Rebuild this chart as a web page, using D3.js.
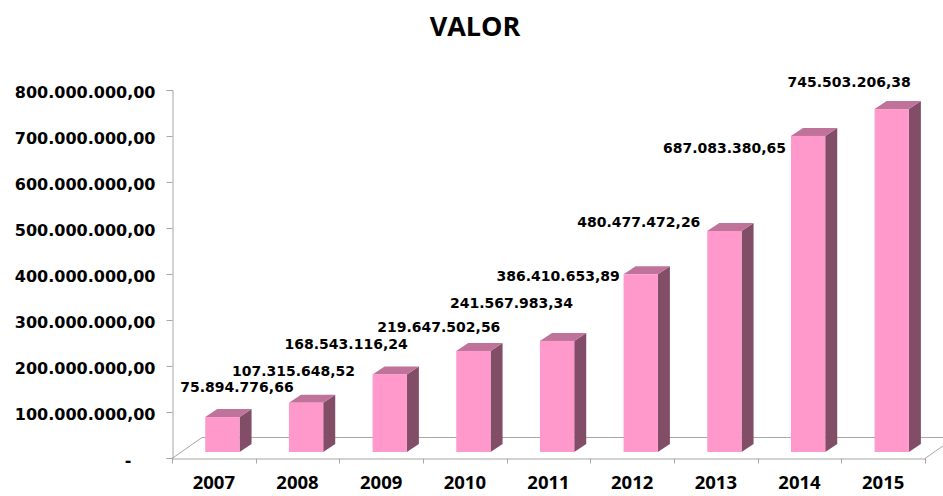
<!DOCTYPE html>
<html>
<head>
<meta charset="utf-8">
<script src="https://cdn.jsdelivr.net/npm/d3@7"></script>
<style>
  html, body { margin: 0; padding: 0; background: #fff; }
  svg { display: block; }
</style>
</head>
<body>
<svg id="chart" width="943" height="496"></svg>
<script>
// ---- data ----
const title = "VALOR";
const years = ["2007", "2008", "2009", "2010", "2011", "2012", "2013", "2014", "2015"];
const values = [75894776.66, 107315648.52, 168543116.24, 219647502.56, 241567983.34,
                386410653.89, 480477472.26, 687083380.65, 745503206.38];
const yTicks = [0, 100e6, 200e6, 300e6, 400e6, 500e6, 600e6, 700e6, 800e6];

// ---- layout (not data) ----
const labelNudge = [[-25, -25], [-57, -27], [-88, -25], [-79, -19], [-90, -33],
                    [-127, 7], [-130, -4], [-128, 17], [-87, -22]];
const colors = { front: "#FF99CC", top: "#C0739A", side: "#814D67", axis: "#A6A6A6" };

const svg = d3.select("#chart");
const left = 172, right = 925, y0 = 458, yTop = 90;
const floorDx = 30, floorDy = 21;   // floor depth
const barOff = 6;                  // bar front is set back this much in y
const barOffX = barOff * floorDx / floorDy;
const depthX = 12, depthY = 8;     // bar depth

const x = d3.scaleBand().domain(years).range([left, right]).paddingInner(0).paddingOuter(0);
const y = d3.scaleLinear().domain([0, 800e6]).range([y0, yTop]);
const bw = x.bandwidth();
const barW = bw * 0.41;

const fmt = v => {
  const s = v.toFixed(2).split(".");
  return s[0].replace(/\B(?=(\d{3})+(?!\d))/g, ".") + "," + s[1];
};

// title
svg.append("text").attr("x", 475).attr("y", 36).attr("text-anchor", "middle")
  .attr("font-family", "'Open Sans', sans-serif").attr("font-weight", "bold")
  .attr("font-size", 27).attr("fill", "#000").text(title);

// floor
const floor = svg.append("g").attr("fill", "none").attr("stroke", colors.axis).attr("stroke-width", 1);
floor.append("path").attr("d",
  `M${left},${y0 + 0.5} L${left + floorDx},${y0 - floorDy + 0.5} L${right + floorDx},${y0 - floorDy + 0.5} L${right},${y0 + 0.5}`);

// y axis
const yAxis = d3.axisLeft(y).tickValues(yTicks).tickSize(6).tickPadding(11)
  .tickFormat(d => d === 0 ? "-" : fmt(d));
const gy = svg.append("g").attr("transform", `translate(${left + 0.5},0)`).call(yAxis);
gy.select(".domain").attr("stroke", colors.axis);
gy.selectAll(".tick line").attr("stroke", colors.axis);
gy.selectAll(".tick text")
  .attr("font-family", "'DejaVu Sans', sans-serif").attr("font-weight", "bold")
  .attr("font-size", 16).attr("fill", "#000").attr("dy", "0.45em")
  .attr("dx", d => d === 0 ? -24 : 0);

// x axis
const xAxis = d3.axisBottom(x).tickSize(0).tickPadding(17);
const gx = svg.append("g").attr("transform", `translate(0,${y0 + 0.5})`).call(xAxis);
gx.select(".domain").attr("stroke", colors.axis);
gx.selectAll(".tick text")
  .attr("font-family", "'Open Sans', sans-serif").attr("font-weight", "bold")
  .attr("font-size", 18.5).attr("fill", "#000");
gx.selectAll(".bound").data(d3.range(years.length + 1)).join("line")
  .attr("x1", i => Math.round(left + i * bw) + 0.5).attr("x2", i => Math.round(left + i * bw) + 0.5)
  .attr("y1", 0).attr("y2", 5).attr("stroke", colors.axis);

// bars
const bars = svg.append("g").selectAll("g").data(years.map((yr, i) => ({ yr, v: values[i], i }))).join("g");
const geo = d => {
  const x0 = x(d.yr) + (bw - barW) / 2 + barOffX;
  const x1 = x0 + barW;
  const yb = y(0) - barOff;
  const yt = y(d.v) - barOff;
  return { x0, x1, yb, yt };
};
bars.append("path").attr("fill", colors.side).attr("d", d => {
  const g = geo(d);
  return `M${g.x1},${g.yt} L${g.x1 + depthX},${g.yt - depthY} L${g.x1 + depthX},${g.yb - depthY} L${g.x1},${g.yb} Z`;
});
bars.append("path").attr("fill", colors.top).attr("d", d => {
  const g = geo(d);
  return `M${g.x0},${g.yt} L${g.x0 + depthX},${g.yt - depthY} L${g.x1 + depthX},${g.yt - depthY} L${g.x1},${g.yt} Z`;
});
bars.append("rect").attr("fill", colors.front)
  .attr("x", d => geo(d).x0).attr("y", d => geo(d).yt)
  .attr("width", barW).attr("height", d => geo(d).yb - geo(d).yt);

// data labels
bars.append("text")
  .attr("x", d => geo(d).x0 + labelNudge[d.i][0])
  .attr("y", d => geo(d).yt + labelNudge[d.i][1])
  .attr("font-family", "'DejaVu Sans', sans-serif").attr("font-weight", "bold")
  .attr("font-size", 14).attr("fill", "#000")
  .text(d => fmt(d.v));
</script>
</body>
</html>
